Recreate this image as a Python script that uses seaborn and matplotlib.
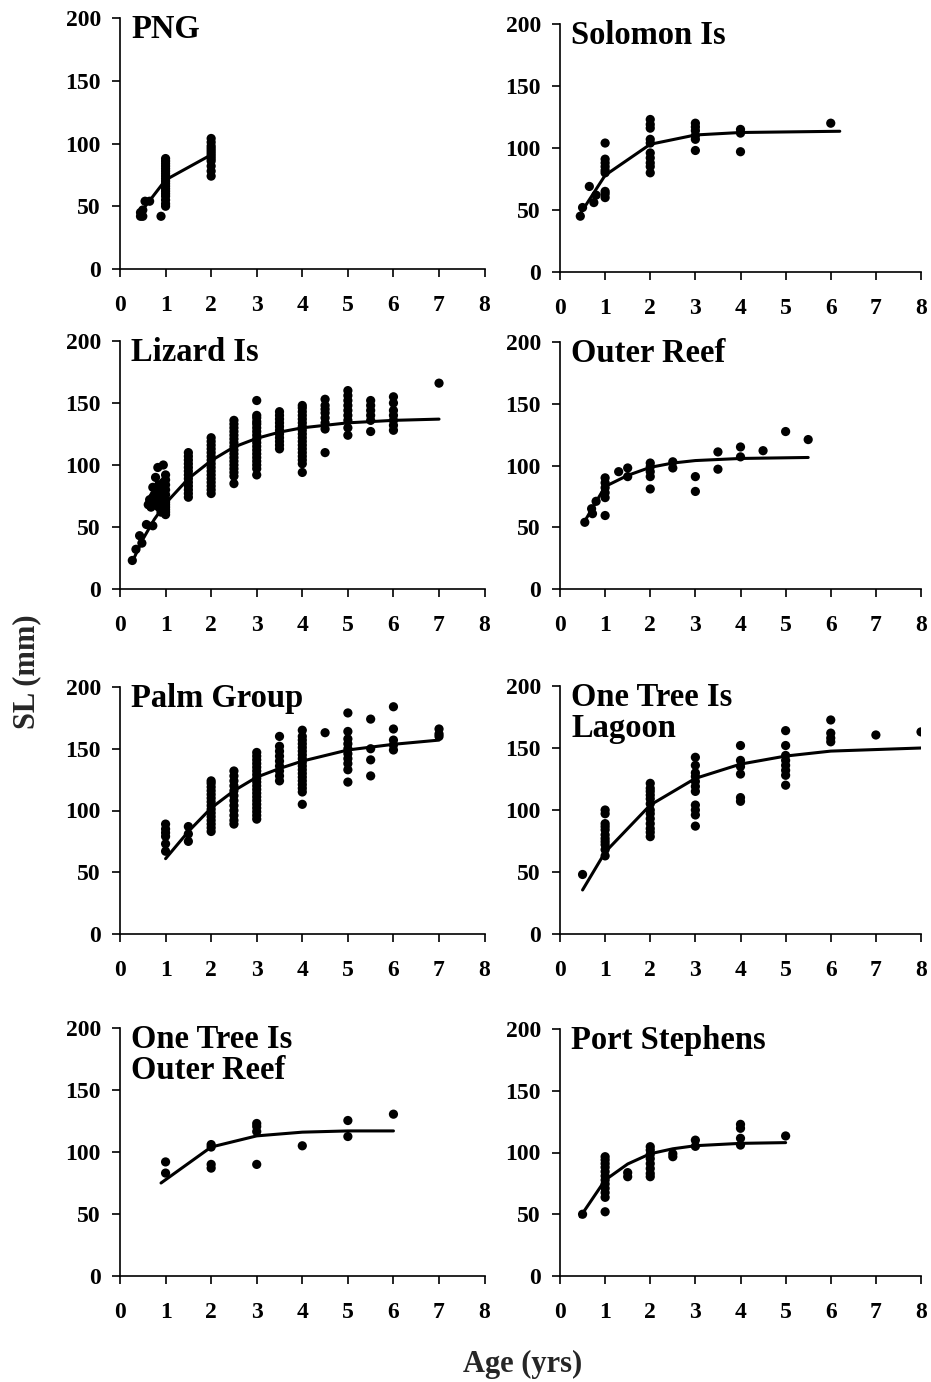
import matplotlib
matplotlib.use("Agg")
import matplotlib.pyplot as plt
import matplotlib.transforms as mtransforms
import seaborn as sns

# ---------------- data ----------------
titles = ["PNG", "Solomon Is", "Lizard Is", "Outer Reef",
          "Palm Group", "One Tree Is\nLagoon", "One Tree Is\nOuter Reef", "Port Stephens"]
x_ticks = [0, 1, 2, 3, 4, 5, 6, 7, 8]
y_ticks = [0, 50, 100, 150, 200]

png_age = [0.45, 0.45, 0.5, 0.5, 0.55, 0.65, 0.9,
           1, 1, 1, 1, 1, 1, 1, 1, 1, 1, 1, 1, 1, 1, 1, 1, 1, 1, 1,
           2, 2, 2, 2, 2, 2, 2, 2, 2, 2, 2, 2]
png_sl = [45, 42, 42, 47, 54, 54, 42,
          50, 52, 55, 58, 60, 62, 64, 66, 68, 70, 72, 74, 76, 78, 80, 82, 84, 86, 88,
          74, 78, 82, 86, 88, 90, 92, 94, 96, 98, 101, 104]
png_fit_age = [0.45, 1, 2]
png_fit_sl = [45, 71, 91]

sol_age = [0.45, 0.5, 0.65, 0.75, 0.8,
           1, 1, 1, 1, 1, 1, 1, 1, 1,
           2, 2, 2, 2, 2, 2, 2, 2, 2, 2,
           3, 3, 3, 3, 3, 3,
           4, 4, 4, 6]
sol_sl = [45, 52, 69, 56, 62,
          104, 91, 88, 85, 82, 80, 65, 63, 60,
          123, 119, 116, 107, 104, 96, 92, 88, 85, 80,
          120, 117, 114, 110, 107, 98,
          115, 112, 97, 120]
sol_fit_age = [0.45, 1, 2, 3, 4, 6.2]
sol_fit_sl = [47, 78, 103, 110.5, 112.5, 113.5]

liz_age = [0.27, 0.35, 0.43, 0.48, 0.58, 0.72,
           0.62, 0.65, 0.68, 0.7, 0.72, 0.72, 0.75, 0.75, 0.78, 0.8, 0.8, 0.83, 0.85, 0.85,
           0.88, 0.9, 0.9, 0.95, 0.95, 0.95,
           1, 1, 1, 1, 1, 1, 1, 1, 1, 1, 1, 1,
           1.5, 1.5, 1.5, 1.5, 1.5, 1.5, 1.5, 1.5, 1.5, 1.5, 1.5, 1.5, 1.5,
           2, 2, 2, 2, 2, 2, 2, 2, 2, 2, 2, 2, 2, 2, 2, 2,
           2.5, 2.5, 2.5, 2.5, 2.5, 2.5, 2.5, 2.5, 2.5, 2.5, 2.5, 2.5, 2.5, 2.5, 2.5, 2.5, 2.5,
           3, 3, 3, 3, 3, 3, 3, 3, 3, 3, 3, 3, 3, 3, 3, 3, 3, 3,
           3.5, 3.5, 3.5, 3.5, 3.5, 3.5, 3.5, 3.5, 3.5, 3.5, 3.5,
           4, 4, 4, 4, 4, 4, 4, 4, 4, 4, 4, 4, 4, 4, 4, 4, 4, 4,
           4.5, 4.5, 4.5, 4.5, 4.5, 4.5, 4.5, 4.5,
           5, 5, 5, 5, 5, 5, 5, 5, 5,
           5.5, 5.5, 5.5, 5.5, 5.5, 5.5,
           6, 6, 6, 6, 6, 6, 6,
           7]
liz_sl = [23, 32, 43, 37, 52, 51,
          68, 72, 66, 70, 74, 82, 76, 68, 90, 78, 72, 98, 84, 66,
          80, 74, 62, 100, 86, 70,
          60, 62, 64, 66, 68, 70, 72, 76, 80, 84, 88, 92,
          74, 77, 80, 83, 86, 89, 92, 95, 98, 101, 104, 107, 110,
          77, 80, 83, 86, 89, 92, 95, 98, 101, 104, 107, 110, 113, 116, 119, 122,
          85, 91, 94, 97, 100, 103, 106, 109, 112, 115, 118, 121, 124, 127, 130, 133, 136,
          92, 97, 100, 103, 106, 109, 112, 115, 118, 121, 124, 127, 130, 133, 135, 138, 140, 152,
          113, 116, 119, 122, 125, 128, 131, 134, 137, 140, 143,
          94, 101, 104, 107, 110, 113, 116, 119, 122, 125, 128, 131, 134, 137, 140, 143, 146, 148,
          110, 129, 134, 138, 142, 145, 148, 153,
          124, 130, 136, 140, 144, 148, 152, 156, 160,
          127, 136, 140, 144, 148, 152,
          128, 132, 136, 140, 144, 150, 155,
          166]
liz_fit_age = [0.27, 0.5, 0.75, 1, 1.5, 2, 2.5, 3, 3.5, 4, 4.5, 5, 5.5, 6, 7]
liz_fit_sl = [22, 40, 56, 69, 89, 103.5, 114.5, 121.5, 126.5, 130, 132, 134, 135, 136, 137]

orf_age = [0.55, 0.7, 0.72, 0.8,
           1, 1, 1, 1, 1, 1,
           1.3, 1.5, 1.5,
           2, 2, 2, 2, 2,
           2.5, 2.5, 3, 3, 3.5, 3.5, 4, 4, 4.5, 5, 5.5]
orf_sl = [54, 65, 61, 71,
          90, 86, 82, 78, 74, 59.5,
          95, 98, 91,
          102, 99, 95, 91, 81,
          103, 98, 91, 79, 111, 97, 115, 107, 112, 127.5, 121]
orf_fit_age = [0.55, 1, 1.5, 2, 2.5, 3, 4, 5.5]
orf_fit_sl = [55, 83, 92, 98.5, 102, 104, 105.7, 106.5]

palm_age = [1, 1, 1, 1, 1, 1,
            1.5, 1.5, 1.5,
            2, 2, 2, 2, 2, 2, 2, 2, 2, 2, 2, 2, 2, 2, 2,
            2.5, 2.5, 2.5, 2.5, 2.5, 2.5, 2.5, 2.5, 2.5, 2.5, 2.5, 2.5,
            3, 3, 3, 3, 3, 3, 3, 3, 3, 3, 3, 3, 3, 3, 3, 3, 3, 3, 3,
            3.5, 3.5, 3.5, 3.5, 3.5, 3.5, 3.5, 3.5, 3.5,
            4, 4, 4, 4, 4, 4, 4, 4, 4, 4, 4, 4, 4, 4, 4, 4, 4, 4,
            4.5,
            5, 5, 5, 5, 5, 5, 5, 5, 5, 5,
            5.5, 5.5, 5.5, 5.5,
            6, 6, 6, 6, 6,
            7, 7, 7]
palm_sl = [67, 73, 79, 82, 85, 89,
           75, 81, 87,
           83, 86, 89, 92, 95, 98, 101, 104, 107, 110, 113, 116, 119, 122, 124,
           89, 92, 96, 100, 104, 108, 112, 116, 120, 124, 128, 132,
           93, 96, 99, 102, 105, 108, 111, 114, 117, 120, 123, 126, 129, 132, 135, 138, 141, 144, 147,
           124, 128, 132, 136, 140, 144, 148, 152, 160,
           105, 115, 118, 121, 124, 127, 130, 133, 136, 139, 142, 145, 148, 151, 154, 157, 160, 165,
           163,
           123, 133, 138, 142, 146, 150, 154, 158, 164, 179,
           128, 141, 150, 174,
           149, 153, 157, 166, 184,
           160, 162, 166]
palm_fit_age = [1, 1.5, 2, 2.5, 3, 3.5, 4, 5, 6, 7]
palm_fit_sl = [61, 83, 102, 116, 127, 134, 140, 149, 153.6, 157]

lag_age = [0.5,
           1, 1, 1, 1, 1, 1, 1, 1, 1, 1, 1,
           2, 2, 2, 2, 2, 2, 2, 2, 2, 2, 2, 2, 2,
           3, 3, 3, 3, 3, 3, 3, 3, 3, 3, 3,
           4, 4, 4, 4, 4, 4,
           5, 5, 5, 5, 5, 5, 5, 5,
           6, 6, 6, 6, 7, 8]
lag_sl = [48,
          63, 68, 72, 74.5, 77, 80, 84, 86.6, 89, 97, 100,
          78.5, 82, 85, 89, 93, 97, 100, 105, 109, 112, 115, 117.5, 121.5,
          87, 96, 100, 104, 115, 119, 123, 127, 130, 136, 142.5,
          107, 110, 129, 135, 140, 152,
          120, 128, 132, 136, 140, 144, 152, 164,
          155, 158, 162, 172.6, 160.5, 163]
lag_fit_age = [0.5, 1, 2, 3, 4, 5, 6, 8]
lag_fit_sl = [35.5, 66, 104, 125.5, 137, 143.5, 147.5, 150]

oto_age = [1, 1, 2, 2, 2, 2, 3, 3, 3, 3, 4, 5, 5, 6]
oto_sl = [92, 83, 106, 104, 90, 87, 123, 120.6, 116.5, 90, 105, 125.4, 112.5, 130.5]
oto_fit_age = [0.9, 2, 3, 4, 5, 6]
oto_fit_sl = [75, 104, 113, 116, 117, 117]

ps_age = [0.5,
          1, 1, 1, 1, 1, 1, 1, 1, 1, 1, 1, 1,
          1.5, 1.5,
          2, 2, 2, 2, 2, 2, 2, 2,
          2.5, 2.5, 3, 3, 4, 4, 4, 4, 5]
ps_sl = [50,
         52, 63.7, 67.5, 71, 74.5, 77.7, 81, 84.5, 88, 91, 94, 96.6,
         80.4, 83.7,
         80.4, 83, 87, 91, 95, 98.5, 102, 104.7,
         96.6, 99, 105, 110, 106, 111.5, 119.6, 122.8, 113.4]
ps_fit_age = [0.45, 1, 1.5, 2, 2.5, 3, 4, 5]
ps_fit_sl = [48, 77.7, 90.7, 99, 103, 105.5, 107.4, 108]

panels = [
    (png_age, png_sl, png_fit_age, png_fit_sl),
    (sol_age, sol_sl, sol_fit_age, sol_fit_sl),
    (liz_age, liz_sl, liz_fit_age, liz_fit_sl),
    (orf_age, orf_sl, orf_fit_age, orf_fit_sl),
    (palm_age, palm_sl, palm_fit_age, palm_fit_sl),
    (lag_age, lag_sl, lag_fit_age, lag_fit_sl),
    (oto_age, oto_sl, oto_fit_age, oto_fit_sl),
    (ps_age, ps_sl, ps_fit_age, ps_fit_sl),
]

# ---------------- style ----------------
sns.set_style("ticks")
plt.rcParams["font.family"] = ["Liberation Serif", "DejaVu Serif"]
plt.rcParams["font.weight"] = "bold"

W, H = 931, 1382
fig = plt.figure(figsize=(W / 100, H / 100), dpi=100)
fig.patch.set_facecolor("white")

# axes rectangles in pixels: (x0, x8, top, bottom)
rects_px = [
    (120, 484.6, 18, 269), (560, 921, 24, 272),
    (120, 484.6, 341, 589), (560, 921, 342, 589),
    (120, 484.6, 687, 934), (560, 921, 686, 934),
    (120, 484.6, 1028, 1276), (560, 921, 1029, 1276),
]

for (ages, sls, fa, fs), title, (x0, x1, top, bot) in zip(panels, titles, rects_px):
    ax = fig.add_axes([x0 / W, 1 - bot / H, (x1 - x0) / W, (bot - top) / H])
    sns.scatterplot(x=ages, y=sls, ax=ax, color="black", s=44, edgecolor="none",
                    linewidth=0, zorder=3)
    sns.lineplot(x=fa, y=fs, ax=ax, color="black", linewidth=2.2, sort=False,
                 estimator=None, zorder=4)
    ax.set_xlim(0, 8)
    ax.set_ylim(0, 200)
    ax.set_xticks(x_ticks)
    ax.set_yticks(y_ticks)
    ax.set_xlabel("")
    ax.set_ylabel("")
    ax.set_facecolor("none")
    for s in ("top", "right"):
        ax.spines[s].set_visible(False)
    for s in ("left", "bottom"):
        ax.spines[s].set_linewidth(1.2)
        ax.spines[s].set_color("black")
    ax.tick_params(axis="both", direction="out", length=5.8, width=1.2,
                   labelsize=17, colors="black")
    ax.tick_params(axis="x", pad=13)
    ax.tick_params(axis="y", pad=8)
    for lab in ax.get_xticklabels() + ax.get_yticklabels():
        lab.set_fontweight("bold")
    for i, line in enumerate(title.split("\n")):
        tr = mtransforms.offset_copy(ax.transAxes, fig=fig, x=11, y=-20 - 31 * i,
                                     units="dots")
        ax.text(0, 1, line, transform=tr, ha="left", va="baseline",
                fontsize=23.5, fontweight="bold", color="black")

fig.text(27 / W, 1 - 672 / H, "SL (mm)", rotation=90, ha="center", va="center",
         fontsize=22, fontweight="bold")
fig.text(523 / W, 1 - 1364 / H, "Age (yrs)", ha="center", va="center",
         fontsize=22, fontweight="bold")

fig.savefig("out.png", dpi=100, facecolor="white")
